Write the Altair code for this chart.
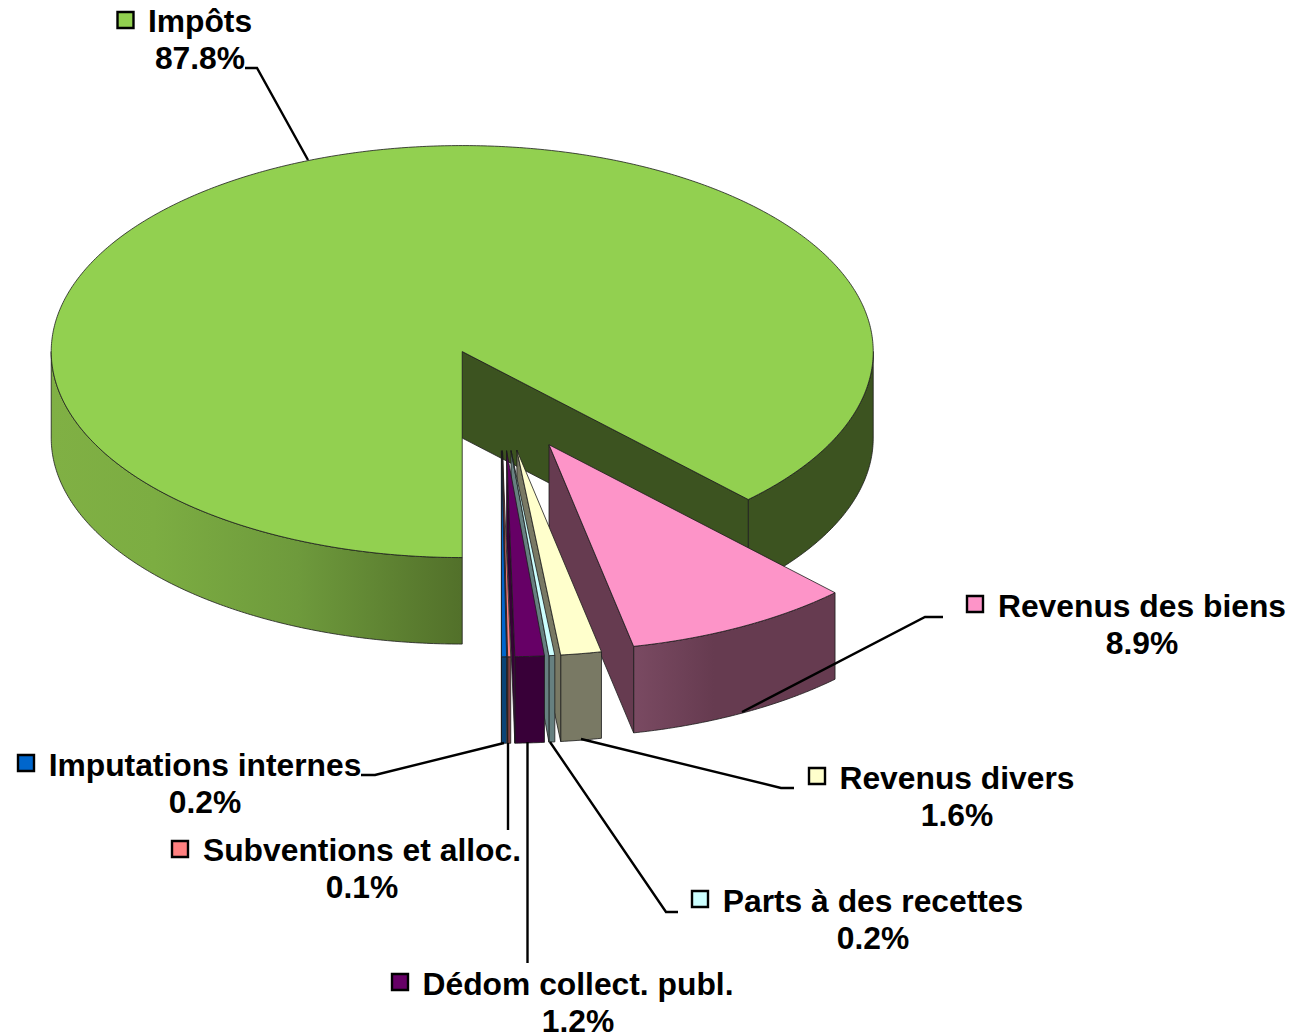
import numpy as np
import pandas as pd
import altair as alt

# ---- data
categories = ["Impôts", "Revenus des biens", "Revenus divers", "Parts à des recettes",
              "Dédom collect. publ.", "Subventions et alloc.", "Imputations internes"]
# shares, they round to the printed labels
values = [87.75, 8.95, 1.6, 0.23, 1.15, 0.12, 0.2]
pct_labels = ["87.8%", "8.9%", "1.6%", "0.2%", "1.2%", "0.1%", "0.2%"]
top_colors = ["#92D050", "#FD94C8", "#FFFFCC", "#CCFFFF", "#660066", "#FF8080", "#0066CC"]
wall_colors = ["#3C5320", "#663B50", "#797964", "#668080", "#380038", "#804040", "#0A4477"]

# ---- 3D pie geometry (pixel space of the picture)
RX, RY, DEPTH = 411.0, 206.0, 86.5
CX, CY = 500.8, 399.3
EXPLODE = 0.25
START = 180.0

# ---- label layout (pixel space of the picture)
label_x = [200, 1142, 957, 873, 578, 362, 205]
label_y = [32, 617, 789, 912, 995, 861, 776]
key_x = [125.5, 975, 817, 700, 400, 180, 26]
key_y = [20, 604, 776, 899, 982, 849, 763]
leaders = [
    [(245, 68), (257, 68), (308, 160)],
    [(943, 617), (925, 617), (742, 712)],
    [(581, 739), (781, 788), (794, 788)],
    [(550, 742), (666, 912), (678, 912)],
    [(527.5, 742), (527.5, 963)],
    [(508, 743), (508, 830)],
    [(361, 775), (375, 775), (504, 743)],
]

X = alt.X("x:Q", scale=alt.Scale(domain=[8, 1297]), axis=None)
Y = alt.Y("y:Q", scale=alt.Scale(domain=[1036, 8]), axis=None)


def hgrad(stops):
    return alt.Gradient(gradient="linear", x1=0, x2=1, y1=0, y2=0,
                        stops=[alt.GradientStop(offset=o, color=c) for o, c in stops])


def poly(points, fill, stroke="#1c1c1c", width=0.8):
    df = pd.DataFrame(points, columns=["x", "y"])
    df["i"] = range(len(df))
    return alt.Chart(df).mark_line(fill=fill, stroke=stroke, strokeWidth=width,
                                   strokeJoin="round").encode(x=X, y=Y, order="i:Q")


def rim(ax, ay, a0, a1, z=0.0):
    t = np.radians(np.linspace(a0, a1, max(int(abs(a1 - a0)) * 2, 2) + 1))
    return list(zip(ax + RX * np.sin(t), ay - RY * np.cos(t) + z))


layers = []
angle = START
for k, v in enumerate(values):
    a0 = angle
    a1 = angle + v * 3.6
    angle = a1
    mid = np.radians((a0 + a1) / 2)
    ax = CX + EXPLODE * RX * np.sin(mid)
    ay = CY - EXPLODE * RY * np.cos(mid)

    # outer wall, only the part that faces the viewer
    for lo, hi in [(90, 270), (450, 630)]:
        s, e = max(a0, lo), min(a1, hi)
        if s < e:
            pts = rim(ax, ay, s, e) + rim(ax, ay, e, s, DEPTH)
            pts.append(pts[0])
            if k == 0 and lo == 90:
                fill = hgrad([(0, "#80B044"), (0.25, "#7CAD42"), (0.6, "#6E9A3C"), (1, "#52702A")])
            elif k == 1:
                fill = hgrad([(0, "#7A4A62"), (0.4, "#663B50"), (1, "#663B50")])
            else:
                fill = wall_colors[k]
            layers.append(poly(pts, fill))

    # cut face at the end of the slice
    ex, ey = rim(ax, ay, a1, a1)[0]
    face = [(ax, ay), (ex, ey), (ex, ey + DEPTH), (ax, ay + DEPTH), (ax, ay)]
    layers.append(poly(face, wall_colors[k]))

    # top face
    top = [(ax, ay)] + rim(ax, ay, a0, a1) + [(ax, ay)]
    layers.append(poly(top, top_colors[k]))

# leader lines
for pts in leaders:
    df = pd.DataFrame(pts, columns=["x", "y"])
    df["i"] = range(len(df))
    layers.append(alt.Chart(df).mark_line(color="#000000", strokeWidth=2.4).encode(x=X, y=Y, order="i:Q"))

# legend keys
keys = pd.DataFrame({"x": key_x, "y": key_y, "c": top_colors})
layers.append(alt.Chart(keys).mark_point(shape="square", filled=True, size=256, stroke="#000000",
                                         strokeWidth=2.4, opacity=1).encode(
    x=X, y=Y, fill=alt.Fill("c:N", scale=None)))

# labels
name_df = pd.DataFrame({"x": label_x, "y": label_y, "t": categories})
pct_df = pd.DataFrame({"x": label_x, "y": [b + 37 for b in label_y], "t": pct_labels})
for df in (name_df, pct_df):
    layers.append(alt.Chart(df).mark_text(font="Liberation Sans", fontWeight="bold", fontSize=31.8,
                                          align="center", baseline="alphabetic", color="#000000").encode(
        x=X, y=Y, text="t:N"))

chart = alt.layer(*layers).properties(
    width=1289, height=1028, padding=0, background="#ffffff",
    autosize=alt.AutoSizeParams(type="none"),
).configure_view(stroke=None)

chart.save("out.html", embed_options={"renderer": "svg", "actions": False})
